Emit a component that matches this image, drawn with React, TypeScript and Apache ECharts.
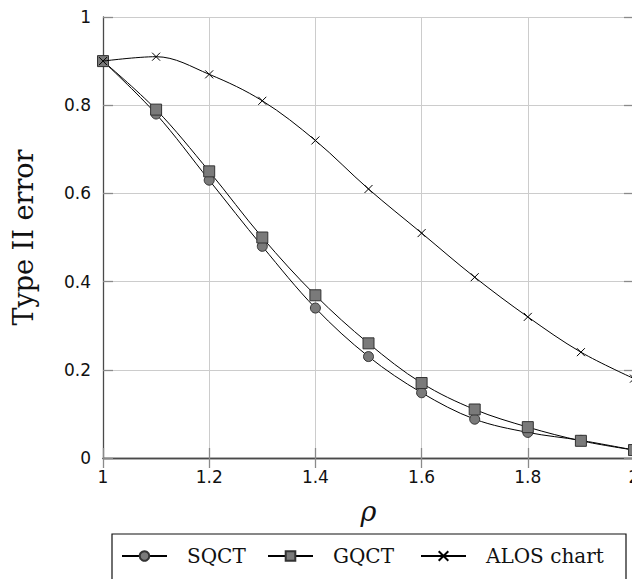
import React, { useEffect, useRef } from "react";
import * as echarts from "echarts";

const rho = [1, 1.1, 1.2, 1.3, 1.4, 1.5, 1.6, 1.7, 1.8, 1.9, 2.0];
const sqct = [0.9, 0.78, 0.63, 0.48, 0.34, 0.23, 0.148, 0.088, 0.058, 0.04, 0.018];
const gqct = [0.9, 0.79, 0.65, 0.5, 0.369, 0.26, 0.17, 0.11, 0.07, 0.039, 0.018];
const alos = [0.9, 0.91, 0.87, 0.81, 0.72, 0.61, 0.51, 0.41, 0.32, 0.24, 0.18];
const seriesNames = ["SQCT", "GQCT", "ALOS chart"];

const pair = (ys: number[]) => rho.map((x, i) => [x, ys[i]]);

const CROSS = "path://M0,0L10,10M10,0L0,10";

export default function App() {
  const ref = useRef<HTMLDivElement>(null);
  useEffect(() => {
    if (!ref.current) return;
    const chart = echarts.init(ref.current, undefined, { renderer: "svg" });
    const tickLabel = { fontFamily: "DejaVu Sans", fontSize: 17, color: "#111" };
    const axisLine = { show: true, lineStyle: { color: "#4a4a4a", width: 1.3 } };
    const axisTick = { show: true, inside: true, length: 10, lineStyle: { color: "#8a8a8a", width: 1.3 } };
    const splitLine = { show: true, lineStyle: { color: "#cccccc", width: 1 } };
    const legendBase = {
      top: 546,
      padding: 0,
      itemWidth: 45,
      itemHeight: 12,
      textStyle: { fontFamily: "DejaVu Serif", fontSize: 20, color: "#111", padding: [0, 0, 0, 15] },
    };
    chart.setOption({
      animation: false,
      backgroundColor: "#ffffff",
      grid: {
        left: 103,
        top: 17,
        width: 531,
        height: 441,
        containLabel: false,
        outerBoundsMode: "none",
      },
      xAxis: [
        {
          type: "value",
          min: 1,
          max: 2,
          interval: 0.2,
          position: "bottom",
          axisLine,
          axisTick,
          splitLine,
          axisLabel: { ...tickLabel, margin: 10 },
          name: "ρ",
          nameLocation: "middle",
          nameGap: 40,
          nameTextStyle: { fontFamily: "DejaVu Serif", fontStyle: "italic", fontSize: 27, color: "#111" },
        },
        {
          type: "value",
          min: 1,
          max: 2,
          interval: 0.2,
          position: "top",
          axisLine,
          axisTick,
          splitLine: { show: false },
          axisLabel: { show: false },
        },
      ],
      yAxis: [
        {
          type: "value",
          min: 0,
          max: 1,
          interval: 0.2,
          position: "left",
          axisLine,
          axisTick,
          splitLine,
          axisLabel: { ...tickLabel, margin: 12 },
          name: "Type II error",
          nameLocation: "middle",
          nameRotate: 90,
          nameGap: 66,
          nameTextStyle: { fontFamily: "DejaVu Serif", fontSize: 27, color: "#111" },
        },
        {
          type: "value",
          min: 0,
          max: 1,
          interval: 0.2,
          position: "right",
          axisLine,
          axisTick,
          splitLine: { show: false },
          axisLabel: { show: false },
        },
      ],
      legend: [
        { ...legendBase, left: 121, data: [seriesNames[0]] },
        { ...legendBase, left: 267, data: [seriesNames[1]] },
        { ...legendBase, left: 420, data: [seriesNames[2]] },
      ],
      graphic: [
        {
          type: "rect",
          shape: { x: 112, y: 534, width: 514, height: 80 },
          style: { fill: "none", stroke: "#111", lineWidth: 1.2 },
          silent: true,
        },
      ],
      series: [
        {
          name: seriesNames[0],
          type: "line",
          data: pair(sqct),
          smooth: 0.35,
          symbol: "circle",
          symbolSize: 10,
          lineStyle: { color: "#000", width: 1 },
          itemStyle: { color: "#7a7a7a", borderColor: "#333", borderWidth: 1 },
          z: 2,
        },
        {
          name: seriesNames[1],
          type: "line",
          data: pair(gqct),
          smooth: 0.35,
          symbol: "rect",
          symbolSize: 11,
          lineStyle: { color: "#000", width: 1 },
          itemStyle: { color: "#7a7a7a", borderColor: "#333", borderWidth: 1 },
          z: 3,
        },
        {
          name: seriesNames[2],
          type: "line",
          data: pair(alos),
          smooth: 0.35,
          symbol: CROSS,
          symbolSize: 8,
          lineStyle: { color: "#000", width: 1 },
          itemStyle: { color: "#000", borderColor: "#000", borderWidth: 1 },
          z: 4,
        },
      ],
    });
    return () => chart.dispose();
  }, []);
  return (
    <div
      ref={ref}
      style={{ position: "absolute", left: 0, top: 0, width: 632, height: 579, background: "#fff" }}
    />
  );
}
